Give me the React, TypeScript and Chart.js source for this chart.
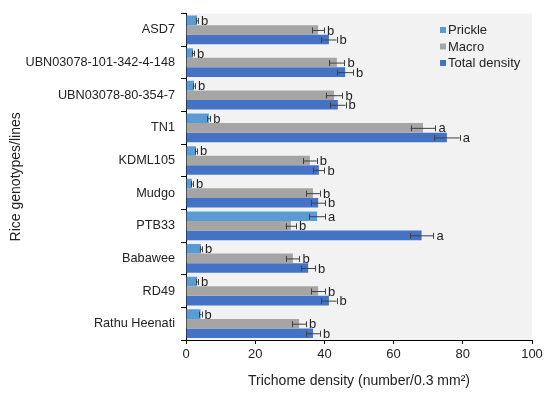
import React, { useEffect, useRef } from "react";
import { Chart, registerables } from "chart.js";

Chart.register(...registerables);

const categories = [
  "ASD7",
  "UBN03078-101-342-4-148",
  "UBN03078-80-354-7",
  "TN1",
  "KDML105",
  "Mudgo",
  "PTB33",
  "Babawee",
  "RD49",
  "Rathu Heenati",
];

const prickle = [3.2, 2.0, 2.3, 6.6, 2.9, 1.7, 37.9, 4.3, 3.2, 4.2];
const prickleErr = [0.3, 0.3, 0.3, 0.4, 0.3, 0.3, 2.3, 0.3, 0.3, 0.3];
const prickleLetters = ["b", "b", "b", "b", "b", "b", "a", "b", "b", "b"];

const macro = [38.2, 43.6, 42.8, 68.5, 35.8, 36.7, 30.3, 30.9, 38.2, 32.7];
const macroErr = [1.7, 2.2, 2.4, 3.6, 2.0, 2.0, 1.5, 1.9, 2.0, 2.0];
const macroLetters = ["b", "b", "b", "a", "b", "b", "b", "b", "b", "b"];

const total = [41.3, 46.0, 43.9, 75.4, 38.4, 38.2, 68.1, 35.3, 41.3, 36.7];
const totalErr = [2.2, 2.3, 2.2, 3.7, 1.6, 2.0, 3.4, 2.0, 2.2, 2.0];
const totalLetters = ["b", "b", "b", "a", "b", "b", "a", "b", "b", "b"];

const xTicks = [0, 20, 40, 60, 80, 100];

const seriesNames = ["Prickle", "Macro", "Total density"];
const seriesColors = ["#5b9bd5", "#a5a5a5", "#4472c4"];

const FONT = "'Liberation Sans', Arial, sans-serif";
const TEXT = "#222222";

export default function App() {
  const ref = useRef<HTMLCanvasElement | null>(null);

  useEffect(() => {
    if (!ref.current) return;
    const errs = [prickleErr, macroErr, totalErr];
    const letters = [prickleLetters, macroLetters, totalLetters];
    const values = [prickle, macro, total];

    const bgPlugin = {
      id: "plotBg",
      beforeDraw(chart: any) {
        const { ctx, chartArea } = chart;
        ctx.save();
        ctx.fillStyle = "#f2f2f2";
        ctx.fillRect(chartArea.left, chartArea.top, chartArea.right - chartArea.left, chartArea.bottom - chartArea.top);
        ctx.restore();
      },
    };

    const errPlugin = {
      id: "errBars",
      afterDatasetsDraw(chart: any) {
        const { ctx } = chart;
        const xs = chart.scales.x;
        ctx.save();
        for (let d = 0; d < 3; d++) {
          const meta = chart.getDatasetMeta(d);
          meta.data.forEach((bar: any, i: number) => {
            const v = values[d][i];
            const e = errs[d][i];
            const y = bar.y;
            const x1 = xs.getPixelForValue(v - e);
            const x2 = xs.getPixelForValue(v + e);
            ctx.strokeStyle = "#404040";
            ctx.lineWidth = 1;
            ctx.beginPath();
            ctx.moveTo(x1, y + 0.5);
            ctx.lineTo(x2, y + 0.5);
            ctx.moveTo(Math.round(x1) + 0.5, y - 2.5);
            ctx.lineTo(Math.round(x1) + 0.5, y + 3.5);
            ctx.moveTo(Math.round(x2) + 0.5, y - 2.5);
            ctx.lineTo(Math.round(x2) + 0.5, y + 3.5);
            ctx.stroke();
            ctx.fillStyle = TEXT;
            ctx.font = `13px ${FONT}`;
            ctx.textBaseline = "middle";
            ctx.textAlign = "left";
            ctx.fillText(letters[d][i], x2 + 3, y + 1);
          });
        }
        ctx.restore();
      },
    };

    const legendPlugin = {
      id: "customLegend",
      afterDraw(chart: any) {
        const { ctx } = chart;
        ctx.save();
        const ys = [30, 46.5, 63];
        seriesNames.forEach((name, i) => {
          ctx.fillStyle = seriesColors[i];
          ctx.fillRect(440, ys[i] - 3, 6, 6);
          ctx.fillStyle = TEXT;
          ctx.font = `13px ${FONT}`;
          ctx.textBaseline = "middle";
          ctx.textAlign = "left";
          ctx.fillText(name, 448, ys[i] + 0.5);
        });
        ctx.restore();
      },
    };

    const chart = new Chart(ref.current, {
      type: "bar",
      data: {
        labels: categories,
        datasets: seriesNames.map((name, i) => ({
          label: name,
          data: values[i],
          backgroundColor: seriesColors[i],
          borderWidth: 0,
          categoryPercentage: 0.88,
          barPercentage: 1.0,
        })),
      },
      options: {
        indexAxis: "y",
        animation: false,
        responsive: true,
        maintainAspectRatio: false,
        layout: { padding: { top: 7, right: 18, left: 0, bottom: 0 } },
        plugins: {
          legend: { display: false },
          tooltip: { enabled: false },
        },
        scales: {
          x: {
            type: "linear",
            min: 0,
            max: 100,
            afterFit: (scale: any) => {
              scale.height = 58;
            },
            afterBuildTicks: (scale: any) => {
              scale.ticks = xTicks.map((v) => ({ value: v }));
            },
            grid: {
              display: true,
              drawOnChartArea: false,
              drawTicks: true,
              tickLength: 4,
              color: "#000000",
            },
            border: { display: true, color: "#000000", width: 1 },
            ticks: {
              color: TEXT,
              font: { family: FONT, size: 13 },
              padding: 3,
            },
            title: {
              display: true,
              text: "Trichome density (number/0.3 mm²)",
              color: TEXT,
              font: { family: FONT, size: 14 },
              padding: { top: 0, bottom: 8 },
            },
          },
          y: {
            type: "category",
            afterFit: (scale: any) => {
              scale.width = 186;
            },
            grid: {
              display: true,
              drawOnChartArea: false,
              drawTicks: true,
              tickLength: 5,
              color: "#000000",
              offset: true,
            },
            border: { display: true, color: "#000000", width: 1 },
            ticks: {
              color: TEXT,
              font: { family: FONT, size: 12.7 },
              padding: 6,
              autoSkip: false,
            },
            title: {
              display: true,
              text: "Rice genotypes/lines",
              color: TEXT,
              font: { family: FONT, size: 14 },
              padding: { top: 8, bottom: 4 },
            },
          },
        },
      },
      plugins: [bgPlugin, errPlugin, legendPlugin],
    });

    return () => chart.destroy();
  }, []);

  return (
    <div style={{ position: "fixed", left: 0, top: 0, width: 550, height: 398, background: "#ffffff" }}>
      <canvas ref={ref} />
    </div>
  );
}
